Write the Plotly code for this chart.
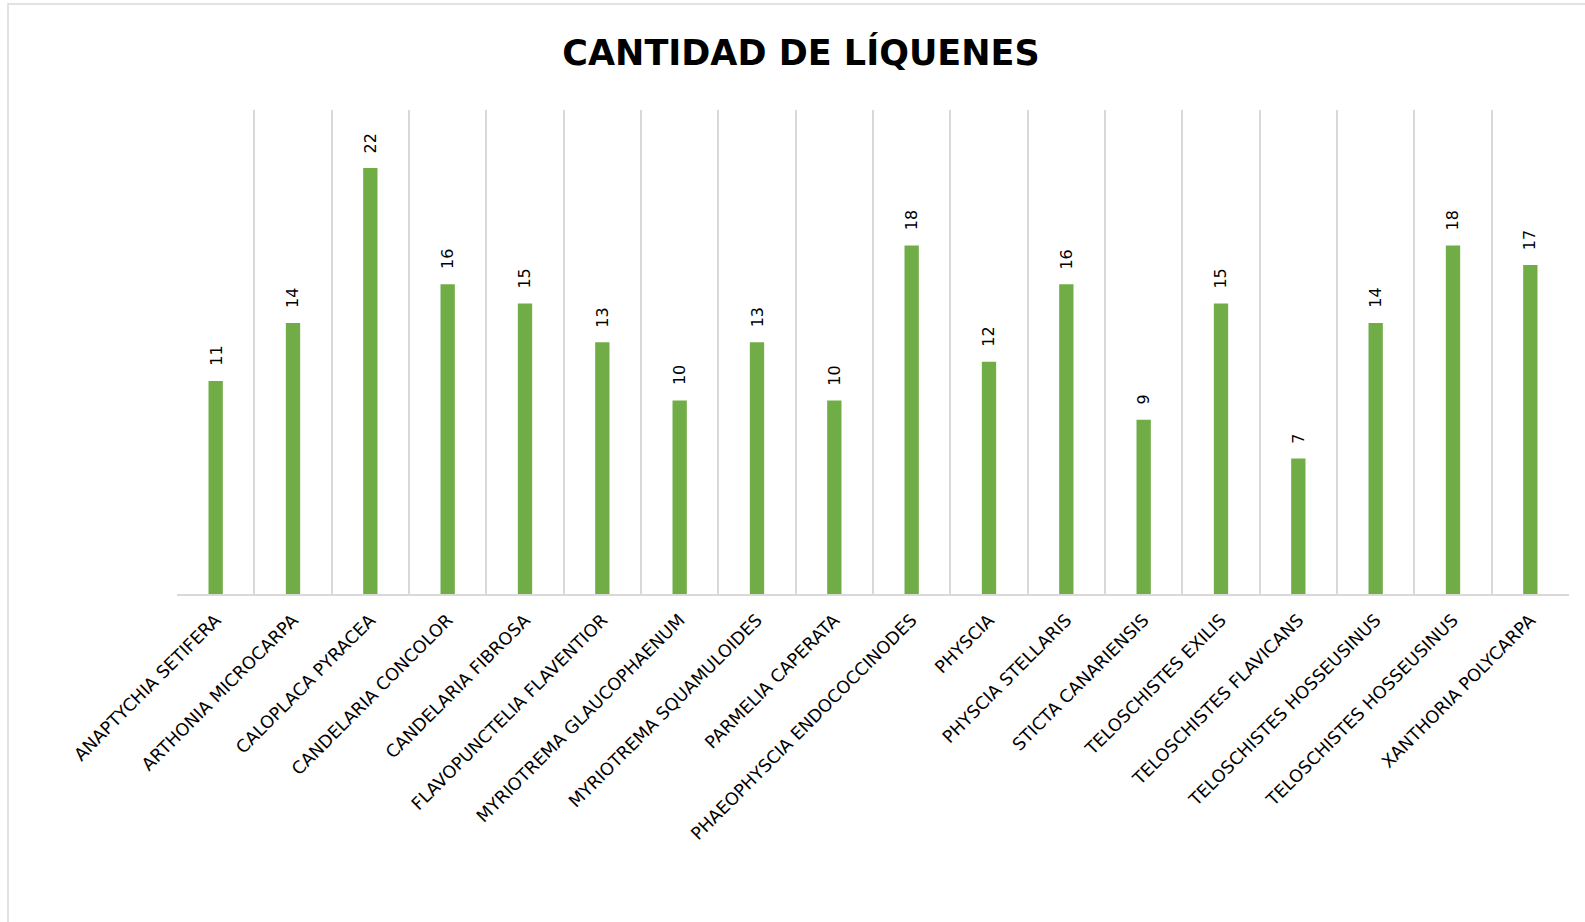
import plotly.graph_objects as go

categories = [
    "ANAPTYCHIA SETIFERA", "ARTHONIA MICROCARPA", "CALOPLACA PYRACEA",
    "CANDELARIA CONCOLOR", "CANDELARIA FIBROSA", "FLAVOPUNCTELIA FLAVENTIOR",
    "MYRIOTREMA GLAUCOPHAENUM", "MYRIOTREMA SQUAMULOIDES", "PARMELIA CAPERATA",
    "PHAEOPHYSCIA ENDOCOCCINODES", "PHYSCIA", "PHYSCIA STELLARIS",
    "STICTA CANARIENSIS", "TELOSCHISTES EXILIS", "TELOSCHISTES FLAVICANS",
    "TELOSCHISTES HOSSEUSINUS", "TELOSCHISTES HOSSEUSINUS", "XANTHORIA POLYCARPA",
]
values = [11, 14, 22, 16, 15, 13, 10, 13, 10, 18, 12, 16, 9, 15, 7, 14, 18, 17]
title_text = "CANTIDAD DE LÍQUENES"

W, H = 1585, 922
L, T = 177, 110
R = W - 1569
B = H - 594
pw, ph = W - L - R, H - T - B

idx = list(range(len(categories)))
FONT = "DejaVu Sans, sans-serif"

fig = go.Figure(go.Bar(
    x=idx, y=values,
    marker=dict(color="#70AD47", line=dict(width=0)),
    width=0.185,
    cliponaxis=False,
    hoverinfo="x+y",
))

annotations = [
    dict(x=i, y=v, xref="x", yref="y", text=str(v), showarrow=False,
         textangle=-90, xanchor="center", yanchor="bottom", yshift=13,
         font=dict(family=FONT, size=16, color="#000000"))
    for i, v in zip(idx, values)
]

fig.update_layout(
    width=W, height=H,
    margin=dict(l=L, r=R, t=T, b=B, pad=0),
    paper_bgcolor="white", plot_bgcolor="white",
    showlegend=False,
    annotations=annotations,
    title=dict(
        text="<b>" + title_text + "</b>",
        x=(801 - L) / pw, xref="paper", xanchor="center",
        y=1 - 53 / H, yref="container", yanchor="middle",
        font=dict(family=FONT, size=35, color="#000000"),
    ),
    xaxis=dict(
        range=[-0.5, len(categories) - 0.5],
        tickmode="array", tickvals=idx, ticktext=categories,
        tickangle=-45, ticks="outside", ticklen=7, tickcolor="rgba(0,0,0,0)",
        showgrid=False, zeroline=False,
        showline=True, linecolor="#d9d9d9", linewidth=2,
        tickfont=dict(family=FONT, size=17.5, color="#000000"),
        minor=dict(tickmode="array", tickvals=[i - 0.5 for i in range(len(categories) + 1)],
                   showgrid=True, gridcolor="#d9d9d9", gridwidth=2, ticks=""),
        fixedrange=True,
    ),
    yaxis=dict(
        range=[0, 25], showgrid=False, zeroline=False, showticklabels=False,
        showline=False, ticks="", fixedrange=True,
    ),
    shapes=[dict(
        type="rect", xref="paper", yref="paper",
        x0=(8 - L) / pw, x1=(W + 40 - L) / pw,
        y0=-(B + 40) / ph, y1=1 + (T - 4) / ph,
        line=dict(color="#d9d9d9", width=1.5), fillcolor="rgba(0,0,0,0)", layer="below",
    )],
)

fig.write_html("out.html", config={"displayModeBar": False},
               post_script="document.body.style.margin='0';")
